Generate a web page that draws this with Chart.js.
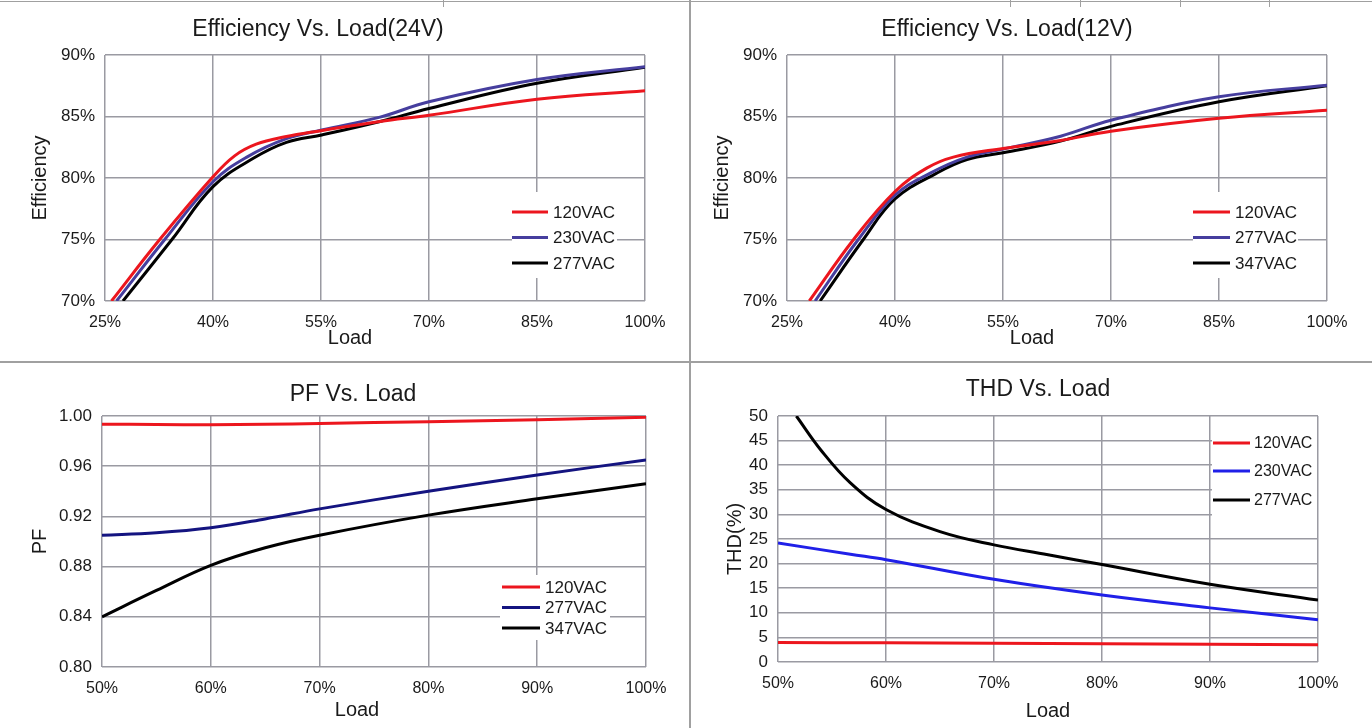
<!DOCTYPE html>
<html>
<head>
<meta charset="utf-8">
<title>Efficiency / PF / THD vs Load</title>
<script src="https://cdn.jsdelivr.net/npm/chart.js@4/dist/chart.umd.min.js"></script>
<style>
  html, body { margin: 0; padding: 0; background: #fff; }
  #page { position: relative; width: 1372px; height: 728px; overflow: hidden; background: #fff; }
  .cell { position: absolute; }
  .rule { position: absolute; background: #a0a0a0; }
</style>
</head>
<body>
<div id="page">
  <div class="cell" style="left:0;top:0;"><canvas id="eff24" width="690" height="362"></canvas></div>
  <div class="cell" style="left:691px;top:0;"><canvas id="eff12" width="681" height="362"></canvas></div>
  <div class="cell" style="left:0;top:363px;"><canvas id="pf" width="690" height="365"></canvas></div>
  <div class="cell" style="left:691px;top:363px;"><canvas id="thd" width="681" height="365"></canvas></div>

  <!-- table borders of the original document -->
  <div class="rule" style="left:0;top:1px;width:1372px;height:1px;"></div>
  <div class="rule" style="left:689px;top:0;width:2px;height:728px;"></div>
  <div class="rule" style="left:0;top:361px;width:1372px;height:2px;"></div>
  <div class="rule" style="left:443px;top:0;width:1px;height:7px;"></div>
  <div class="rule" style="left:1010px;top:0;width:1px;height:7px;"></div>
  <div class="rule" style="left:1080px;top:0;width:1px;height:7px;"></div>
  <div class="rule" style="left:1180px;top:0;width:1px;height:7px;"></div>
  <div class="rule" style="left:1269px;top:0;width:1px;height:7px;"></div>
</div>

<script>
// ---- data ----

// Efficiency vs load, 24V model
var eff24Labels = ['120VAC', '230VAC', '277VAC'];
var eff24Load120 = [25.9, 32.6, 40, 43, 46, 50, 55, 63.2, 70, 85, 100];
var eff24Eff120 = [70, 75, 80.1, 81.8, 82.75, 83.35, 83.85, 84.6, 85.1, 86.4, 87.1];
var eff24Load230 = [26.6, 33.3, 40, 44.7, 50.2, 55.1, 63.2, 70, 85, 100];
var eff24Eff230 = [70, 75, 79.7, 81.7, 83.2, 83.9, 84.95, 86.2, 88.0, 89.05];
var eff24Load277 = [27.5, 34.3, 40, 45.6, 50.2, 55.1, 63.2, 70, 85, 100];
var eff24Eff277 = [70, 75, 79.3, 81.6, 82.9, 83.5, 84.6, 85.65, 87.7, 89.0];

// Efficiency vs load, 12V model
var eff12Labels = ['120VAC', '277VAC', '347VAC'];
var eff12Load120 = [28.1, 34.25, 40, 44.4, 48.1, 55, 63, 70, 85, 100];
var eff12Eff120 = [70, 75, 78.9, 80.8, 81.7, 82.4, 83.05, 83.8, 84.85, 85.5];
var eff12Load277 = [28.9, 34.9, 40, 44.9, 50, 55, 63, 70, 85, 100];
var eff12Eff277 = [70, 75, 78.6, 80.4, 81.7, 82.35, 83.4, 84.7, 86.6, 87.55];
var eff12Load347 = [29.6, 35.6, 40, 45.8, 50, 55, 63, 70, 85, 100];
var eff12Eff347 = [70, 75, 78.3, 80.4, 81.5, 82.05, 83.0, 84.2, 86.2, 87.5];

// Power factor vs load
var pfLabels = ['120VAC', '277VAC', '347VAC'];
var pfLoad = [50, 55, 60, 65, 70, 80, 90, 100];
var pf120 = [0.9935, 0.9932, 0.993, 0.9934, 0.994, 0.9955, 0.997, 0.999];
var pf277 = [0.905, 0.907, 0.911, 0.918, 0.926, 0.940, 0.953, 0.965];
var pf347 = [0.840, 0.861, 0.881, 0.895, 0.905, 0.921, 0.934, 0.946];

// THD vs load
var thdLabels = ['120VAC', '230VAC', '277VAC'];
var thdLoad120 = [50, 60, 70, 80, 90, 100];
var thd120 = [3.95, 3.9, 3.8, 3.7, 3.6, 3.5];
var thdLoad230 = [50, 56.7, 60, 70, 80, 90, 100];
var thd230 = [24.2, 21.9, 20.8, 16.8, 13.6, 11.0, 8.6];
var thdLoad277 = [51.7, 54, 56.7, 60, 65, 70, 75, 80, 90, 100];
var thd277 = [50, 43, 36.4, 31, 26.5, 23.8, 21.8, 19.8, 15.8, 12.6];

// ---- styling ----
var FONT = '"Liberation Sans", Arial, sans-serif';
var TEXT = '#1a1a1a';
var GRID = '#9a9aa2';
var RED = 'rgb(236, 22, 30)';
var PURPLE = 'rgb(70, 62, 158)';
var NAVY = 'rgb(20, 20, 128)';
var BLUE = 'rgb(32, 32, 232)';
var BLACK = '#000';

function lineSet(label, color, xs, ys) {
  return {
    label: label,
    data: xs.map(function (x, i) { return { x: x, y: ys[i] }; }),
    borderColor: color,
    backgroundColor: color,
    borderWidth: 3,
    pointRadius: 0,
    tension: 0.4,
    fill: false
  };
}

// Chart title and the "Load" caption, placed where the original has them
var panelText = {
  id: 'panelText',
  afterDraw: function (chart, args, opts) {
    var ctx = chart.ctx;
    ctx.save();
    ctx.fillStyle = TEXT;
    ctx.textAlign = 'center';
    ctx.textBaseline = 'middle';
    ctx.font = '23px ' + FONT;
    ctx.fillText(opts.title, opts.titleX, opts.titleY);
    ctx.font = '20px ' + FONT;
    ctx.fillText(opts.xTitle, opts.xTitleX, opts.xTitleY);
    ctx.restore();
  }
};

// Legend drawn inside the plot on a white patch, like the original
var boxLegend = {
  id: 'boxLegend',
  afterDraw: function (chart, args, opts) {
    var ctx = chart.ctx;
    ctx.save();
    ctx.fillStyle = '#fff';
    ctx.fillRect(opts.box[0], opts.box[1], opts.box[2], opts.box[3]);
    ctx.font = opts.fontSize + 'px ' + FONT;
    ctx.textAlign = 'left';
    ctx.textBaseline = 'middle';
    chart.data.datasets.forEach(function (ds, i) {
      var y = opts.rows[i];
      ctx.strokeStyle = ds.borderColor;
      ctx.lineWidth = 3;
      ctx.beginPath();
      ctx.moveTo(opts.lineX[0], y);
      ctx.lineTo(opts.lineX[1], y);
      ctx.stroke();
      ctx.fillStyle = TEXT;
      ctx.fillText(ds.label, opts.textX, y + 1);
    });
    ctx.restore();
  }
};

function buildChart(id, p) {
  return new Chart(document.getElementById(id), {
    type: 'line',
    data: { datasets: p.datasets },
    options: {
      responsive: false,
      animation: false,
      layout: { padding: p.padding },
      plugins: {
        legend: { display: false },
        tooltip: { enabled: false },
        panelText: p.text,
        boxLegend: p.legend
      },
      scales: {
        x: {
          type: 'linear',
          min: p.xMin,
          max: 100,
          ticks: {
            stepSize: p.xStep,
            autoSkip: false,
            maxRotation: 0,
            padding: 12,
            color: TEXT,
            font: { family: FONT, size: 16 },
            callback: function (v) { return v + '%'; }
          },
          grid: { color: GRID, lineWidth: 1.5, drawTicks: false },
          border: { display: false },
          afterFit: function (s) { s.height = 40; }
        },
        y: {
          min: p.yMin,
          max: p.yMax,
          ticks: {
            stepSize: p.yStep,
            autoSkip: false,
            padding: 10,
            color: TEXT,
            font: { family: FONT, size: 17 },
            callback: p.yFormat
          },
          grid: { color: GRID, lineWidth: 1.5, drawTicks: false },
          border: { display: false },
          title: {
            display: true,
            text: p.yTitle,
            color: TEXT,
            font: { family: FONT, size: 20 },
            padding: { top: p.yTitlePad, bottom: 0 }
          },
          afterFit: function (s) { s.width = p.yWidth; }
        }
      }
    },
    plugins: [panelText, boxLegend]
  });
}

function pct(v) { return v + '%'; }

// Efficiency 24V
buildChart('eff24', {
  datasets: [
    lineSet(eff24Labels[0], RED, eff24Load120, eff24Eff120),
    lineSet(eff24Labels[1], PURPLE, eff24Load230, eff24Eff230),
    lineSet(eff24Labels[2], BLACK, eff24Load277, eff24Eff277)
  ],
  padding: { left: 0, top: 55, right: 45, bottom: 21 },
  yWidth: 105, yTitle: 'Efficiency', yTitlePad: 28,
  xMin: 25, xStep: 15, yMin: 70, yMax: 90, yStep: 5, yFormat: pct,
  text: { title: 'Efficiency Vs. Load(24V)', titleX: 318, titleY: 30, xTitle: 'Load', xTitleX: 350, xTitleY: 338 },
  legend: { box: [512, 192, 105, 86], rows: [212, 237.5, 263], lineX: [512, 548], textX: 553, fontSize: 17 }
});

// Efficiency 12V
buildChart('eff12', {
  datasets: [
    lineSet(eff12Labels[0], RED, eff12Load120, eff12Eff120),
    lineSet(eff12Labels[1], PURPLE, eff12Load277, eff12Eff277),
    lineSet(eff12Labels[2], BLACK, eff12Load347, eff12Eff347)
  ],
  padding: { left: 0, top: 55, right: 45, bottom: 21 },
  yWidth: 96, yTitle: 'Efficiency', yTitlePad: 19,
  xMin: 25, xStep: 15, yMin: 70, yMax: 90, yStep: 5, yFormat: pct,
  text: { title: 'Efficiency Vs. Load(12V)', titleX: 316, titleY: 30, xTitle: 'Load', xTitleX: 341, xTitleY: 338 },
  legend: { box: [502, 192, 105, 86], rows: [212, 237.5, 263], lineX: [502, 539], textX: 544, fontSize: 17 }
});

// Power factor
buildChart('pf', {
  datasets: [
    lineSet(pfLabels[0], RED, pfLoad, pf120),
    lineSet(pfLabels[1], NAVY, pfLoad, pf277),
    lineSet(pfLabels[2], BLACK, pfLoad, pf347)
  ],
  padding: { left: 0, top: 53, right: 44, bottom: 21 },
  yWidth: 102, yTitle: 'PF', yTitlePad: 28,
  xMin: 50, xStep: 10, yMin: 0.8, yMax: 1.0, yStep: 0.04,
  yFormat: function (v) { return v.toFixed(2); },
  text: { title: 'PF Vs. Load', titleX: 353, titleY: 32, xTitle: 'Load', xTitleX: 357, xTitleY: 347 },
  legend: { box: [500, 212, 110, 65], rows: [224, 244.5, 265], lineX: [502, 540], textX: 545, fontSize: 17 }
});

// THD
buildChart('thd', {
  datasets: [
    lineSet(thdLabels[0], RED, thdLoad120, thd120),
    lineSet(thdLabels[1], BLUE, thdLoad230, thd230),
    lineSet(thdLabels[2], BLACK, thdLoad277, thd277)
  ],
  padding: { left: 0, top: 53, right: 54, bottom: 26 },
  yWidth: 87, yTitle: 'THD(%)', yTitlePad: 32,
  xMin: 50, xStep: 10, yMin: 0, yMax: 50, yStep: 5,
  yFormat: function (v) { return v; },
  text: { title: 'THD Vs. Load', titleX: 347, titleY: 27, xTitle: 'Load', xTitleX: 357, xTitleY: 348 },
  legend: { box: [521, 62, 105, 93], rows: [80, 108, 137], lineX: [522, 559], textX: 563, fontSize: 16 }
});
</script>
</body>
</html>
